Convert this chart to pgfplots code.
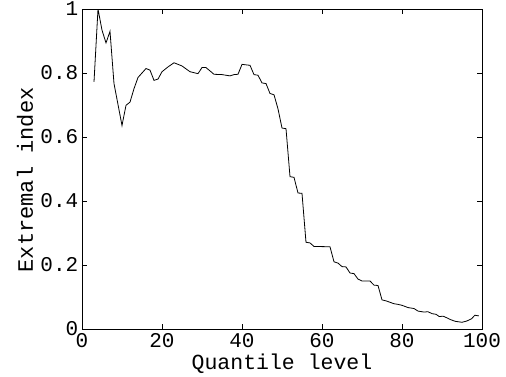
\documentclass[border=0pt]{standalone}
\usepackage{pgfplots}
\pgfplotsset{compat=1.18}
\usepackage{fontspec}
\setmainfont{Liberation Mono}
\begin{document}
\begin{tikzpicture}
\begin{axis}[
  name=ax,
  scale only axis,
  width=400pt, height=320pt,
  xmin=0, xmax=100, ymin=0, ymax=1,
  xtick={0,20,40,60,80,100},
  ytick={0,0.2,0.4,0.6,0.8,1},
  yticklabels={0,0.2,0.4,0.6,0.8,1},
  tick align=inside,
  major tick length=5pt,
  xtick pos=both, ytick pos=both,
  axis line style={line width=0.9pt},
  every tick/.style={black, line width=0.7pt},
  /pgf/number format/assume math mode=true,
  tick label style={font=\fontsize{21}{24}\selectfont},
  xlabel={Quantile level},
  ylabel={Extremal index},
  every axis x label/.style={at={(axis description cs:0.5,-0.125)}, anchor=base, inner sep=0pt, font=\fontsize{21.5}{24}\selectfont},
  every axis y label/.style={at={(axis description cs:-0.1425,0.466)}, anchor=center, inner sep=0pt, rotate=90, font=\fontsize{22}{24}\selectfont},
  xticklabel style={anchor=base, inner sep=0pt, yshift=-18.5pt},
  yticklabel style={anchor=east, inner sep=0pt, xshift=-3.5pt},
]
\addplot[black, line width=0.8pt] coordinates {
(3,0.772) (4,1.0) (5,0.934) (6,0.894) (7,0.93) (8,0.767) (10,0.636) (11,0.699) (12,0.709) (13,0.751) (14,0.786) (16,0.814) (17,0.809) (18,0.777) (19,0.781) (20,0.804) (21.5,0.819) (23,0.832) (25,0.822) (27,0.804) (29,0.798) (30,0.817) (31,0.817) (33,0.796) (35,0.795) (37,0.791) (38,0.795) (39,0.796) (40,0.827) (42,0.824) (43,0.795) (44,0.793) (45,0.769) (46,0.767) (47,0.736) (48,0.732) (49,0.688) (50,0.628) (51,0.626) (52,0.476) (53,0.474) (54,0.425) (55,0.424) (56,0.271) (57,0.269) (58,0.258) (62,0.257) (63,0.210) (64,0.206) (65,0.195) (66,0.194) (67,0.175) (68,0.173) (69,0.156) (70,0.150) (72,0.150) (73,0.137) (74,0.136) (75,0.091) (76,0.088) (78,0.079) (79,0.077) (80,0.074) (81.5,0.067) (83,0.064) (84,0.056) (85.5,0.053) (86.5,0.054) (87.5,0.048) (88.5,0.046) (89.3,0.039) (90.3,0.040) (91.2,0.035) (92,0.030) (93.3,0.024) (95,0.021) (96.2,0.025) (97.4,0.032) (98.2,0.043) (99.2,0.041)
};
\end{axis}
\pgfresetboundingbox
\path[use as bounding box] ([shift={(-82pt,-47pt)}]ax.south west) rectangle ([shift={(424pt,329pt)}]ax.south west);
\end{tikzpicture}
\end{document}
